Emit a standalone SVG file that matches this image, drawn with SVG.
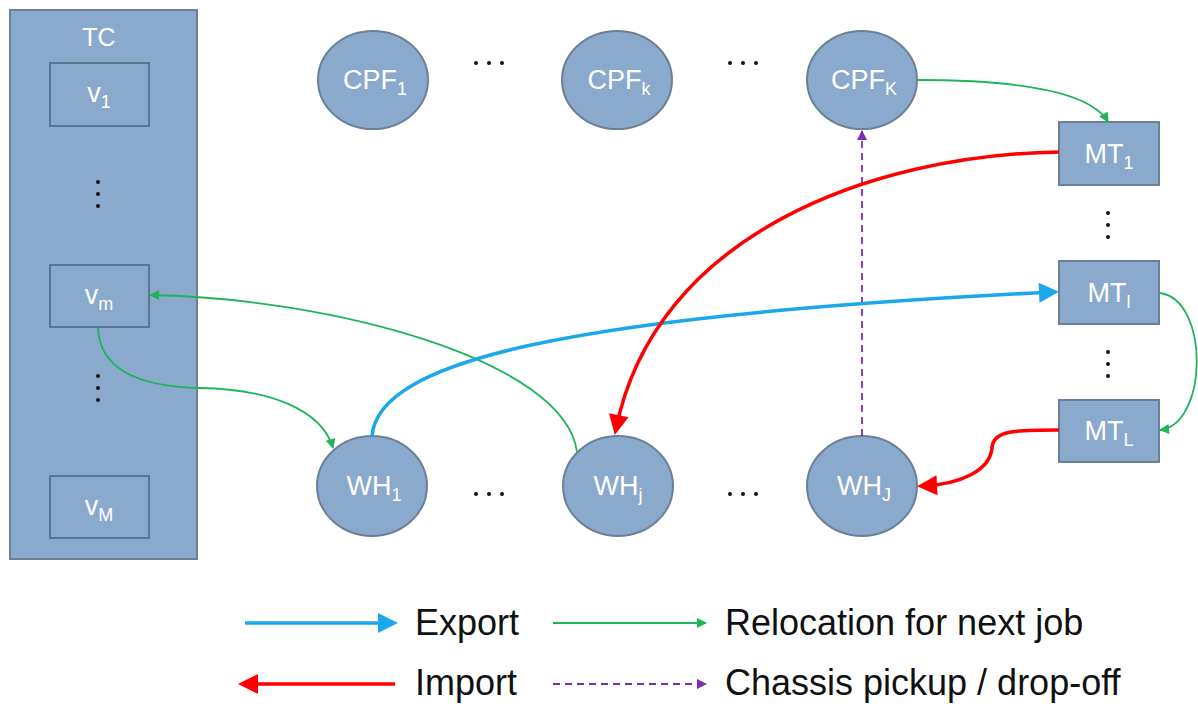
<svg xmlns="http://www.w3.org/2000/svg" width="1198" height="704" viewBox="0 0 1198 704">
<style>
.node{fill:#89aacd;stroke:#6b7f95;stroke-width:2}
.inner{fill:#89aacd;stroke:#5d7690;stroke-width:2}
.lbl{font-family:"Liberation Sans",Arial,sans-serif;font-size:27px;fill:#ffffff;text-anchor:middle}
.sub{font-size:18px}
.dot{fill:#111}
.blue{fill:none;stroke:#1aa7ec;stroke-width:3.5}
.red{fill:none;stroke:#ff0000;stroke-width:3.5}
.green{fill:none;stroke:#1db45a;stroke-width:1.8}
.purple{fill:none;stroke:#7a2fb0;stroke-width:1.8;stroke-dasharray:7 5}
.leg{font-family:"Liberation Sans",Arial,sans-serif;font-size:36px;fill:#111}
</style>
<defs>
<marker id="mBlue" viewBox="0 0 20 20" refX="14" refY="10" markerWidth="21" markerHeight="20" orient="auto" markerUnits="userSpaceOnUse"><path d="M0,0 L20,10 L0,20 z" fill="#1aa7ec"/></marker>
<marker id="mRed" viewBox="0 0 20 20" refX="14" refY="10" markerWidth="21" markerHeight="20" orient="auto" markerUnits="userSpaceOnUse"><path d="M0,0 L20,10 L0,20 z" fill="#ff0000"/></marker>
<marker id="mGreen" viewBox="0 0 10 10" refX="9" refY="5" markerWidth="11" markerHeight="10" orient="auto" markerUnits="userSpaceOnUse"><path d="M0,0 L10,5 L0,10 z" fill="#1db45a"/></marker>
<marker id="mPurple" viewBox="0 0 10 10" refX="9" refY="5" markerWidth="10" markerHeight="10" orient="auto" markerUnits="userSpaceOnUse"><path d="M0,0 L10,5 L0,10 z" fill="#7a2fb0"/></marker>
</defs>
<rect width="1198" height="704" fill="#ffffff"/>

<g id="TC">
<rect class="node" x="10" y="10" width="187" height="549"/>
<text class="lbl" x="99" y="46" style="font-size:25px">TC</text>
<circle class="dot" cx="98" cy="182" r="2"/><circle class="dot" cx="98" cy="194" r="2"/><circle class="dot" cx="98" cy="206" r="2"/>
<circle class="dot" cx="98" cy="376" r="2"/><circle class="dot" cx="98" cy="388" r="2"/><circle class="dot" cx="98" cy="400" r="2"/>
</g>
<g id="v1"><rect class="inner" x="50" y="63" width="99" height="63"/><text class="lbl" x="99" y="102">v<tspan class="sub" dy="6">1</tspan></text></g>
<g id="vm"><rect class="inner" x="50" y="265" width="99" height="62"/><text class="lbl" x="99" y="304">v<tspan class="sub" dy="6">m</tspan></text></g>
<g id="vM"><rect class="inner" x="50" y="476" width="99" height="62"/><text class="lbl" x="99" y="515">v<tspan class="sub" dy="6">M</tspan></text></g>

<g id="CPF1"><ellipse class="node" cx="373" cy="80" rx="55" ry="49"/><text class="lbl" x="375" y="89">CPF<tspan class="sub" dy="6">1</tspan></text></g>
<g id="CPFk"><ellipse class="node" cx="617" cy="80" rx="55" ry="49"/><text class="lbl" x="619" y="89">CPF<tspan class="sub" dy="6">k</tspan></text></g>
<g id="CPFK"><ellipse class="node" cx="862" cy="80" rx="55" ry="49"/><text class="lbl" x="864" y="89">CPF<tspan class="sub" dy="6">K</tspan></text></g>
<g id="dots-cpf">
<circle class="dot" cx="476" cy="63" r="2"/><circle class="dot" cx="489" cy="63" r="2"/><circle class="dot" cx="502" cy="63" r="2"/>
<circle class="dot" cx="730" cy="63" r="2"/><circle class="dot" cx="743" cy="63" r="2"/><circle class="dot" cx="756" cy="63" r="2"/>
</g>

<g id="MT1"><rect class="node" x="1059" y="122" width="100" height="63"/><text class="lbl" x="1109" y="163">MT<tspan class="sub" dy="6">1</tspan></text></g>
<g id="MTl"><rect class="node" x="1059" y="261" width="100" height="63"/><text class="lbl" x="1109" y="302">MT<tspan class="sub" dy="6">l</tspan></text></g>
<g id="MTL"><rect class="node" x="1059" y="400" width="100" height="62"/><text class="lbl" x="1109" y="440">MT<tspan class="sub" dy="6">L</tspan></text></g>
<g id="dots-mt">
<circle class="dot" cx="1108" cy="213" r="2"/><circle class="dot" cx="1108" cy="225" r="2"/><circle class="dot" cx="1108" cy="237" r="2"/>
<circle class="dot" cx="1108" cy="352" r="2"/><circle class="dot" cx="1108" cy="364" r="2"/><circle class="dot" cx="1108" cy="376" r="2"/>
</g>

<g id="WH1"><ellipse class="node" cx="372" cy="486" rx="55" ry="50"/><text class="lbl" x="374" y="495">WH<tspan class="sub" dy="6">1</tspan></text></g>
<g id="WHj"><ellipse class="node" cx="618" cy="486" rx="55" ry="50"/><text class="lbl" x="618" y="495">WH<tspan class="sub" dy="6">j</tspan></text></g>
<g id="WHJ"><ellipse class="node" cx="862" cy="486" rx="55" ry="50"/><text class="lbl" x="864" y="495">WH<tspan class="sub" dy="6">J</tspan></text></g>
<g id="dots-wh">
<circle class="dot" cx="476" cy="494" r="2"/><circle class="dot" cx="489" cy="494" r="2"/><circle class="dot" cx="502" cy="494" r="2"/>
<circle class="dot" cx="730" cy="494" r="2"/><circle class="dot" cx="743" cy="494" r="2"/><circle class="dot" cx="756" cy="494" r="2"/>
</g>

<g id="connectors">
<path class="green" d="M917,80 C1010,80 1090,90 1108,122" marker-end="url(#mGreen)"/>
<path class="purple" d="M862,436 L862,131" marker-end="url(#mPurple)"/>
<path class="green" d="M577,452 C565,360 330,298 150,295" marker-end="url(#mGreen)"/>
<path class="green" d="M98,328 C100,375 150,387 200,388 C270,389 322,410 333,448" marker-end="url(#mGreen)"/>
<path class="green" d="M1160,293 C1210,300 1208,425 1160,430" marker-end="url(#mGreen)"/>
<path class="blue" d="M372,436 C378,362 560,316 1053,292" marker-end="url(#mBlue)"/>
<path class="red" d="M1059,152 C870,155 655,235 616,429" marker-end="url(#mRed)"/>
<path class="red" d="M1059,430 C1015,430 993,430 992,448 C990,470 962,484 923,486" marker-end="url(#mRed)"/>
</g>

<g id="legend">
<path class="blue" d="M245,623 L392,623" marker-end="url(#mBlue)"/>
<text class="leg" x="415" y="635">Export</text>
<path class="green" d="M553,623 L706,623" marker-end="url(#mGreen)"/>
<text class="leg" x="725" y="635">Relocation for next job</text>
<path class="red" d="M395,684 L244,684" marker-end="url(#mRed)"/>
<text class="leg" x="415" y="695">Import</text>
<path class="purple" d="M553,684 L706,684" marker-end="url(#mPurple)"/>
<text class="leg" x="725" y="695">Chassis pickup / drop-off</text>
</g>
</svg>
